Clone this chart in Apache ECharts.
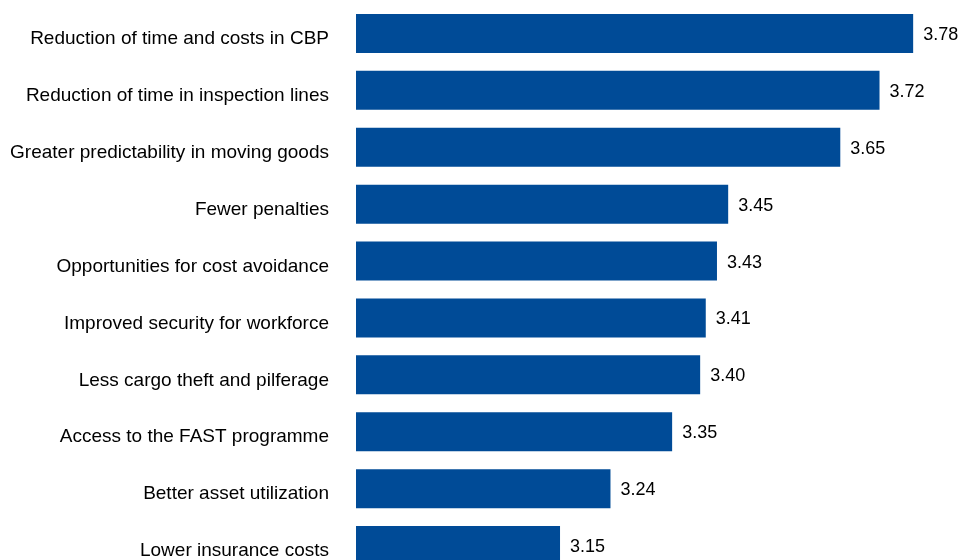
<!DOCTYPE html>
<html>
<head>
<meta charset="utf-8">
<script src="https://cdn.jsdelivr.net/npm/echarts@6/dist/echarts.min.js"></script>
<style>
  html, body { margin: 0; padding: 0; background: #fff; }
  #main { width: 958px; height: 560px; }
</style>
</head>
<body>
<div id="main"></div>
<script>
// categories, top to bottom
var categories = [
  'Reduction of time and costs in CBP',
  'Reduction of time in inspection lines',
  'Greater predictability in moving goods',
  'Fewer penalties',
  'Opportunities for cost avoidance',
  'Improved security for workforce',
  'Less cargo theft and pilferage',
  'Access to the FAST programme',
  'Better asset utilization',
  'Lower insurance costs'
];
var scores = [3.78, 3.72, 3.65, 3.45, 3.43, 3.41, 3.40, 3.35, 3.24, 3.15];

var chart = echarts.init(document.getElementById('main'));

var option = {
  animation: false,
  grid: { left: 356, right: 0, top: 5, bottom: -14, outerBoundsMode: 'none' },
  xAxis: {
    type: 'value',
    min: 2.786,
    max: 3.86,
    show: false
  },
  yAxis: {
    type: 'category',
    inverse: true,
    data: categories,
    axisLine: { show: false },
    axisTick: { show: false },
    splitLine: { show: false },
    axisLabel: {
      margin: 27,
      formatter: function (v) { return '{a|' + v + '}'; },
      rich: {
        a: {
          color: '#000',
          fontFamily: 'Liberation Sans, Arial, sans-serif',
          fontSize: 19,
          padding: [11, 0, 0, 0]
        }
      }
    }
  },
  series: [{
    type: 'bar',
    data: scores,
    barWidth: 39,
    itemStyle: { color: '#004B97' },
    label: {
      show: true,
      position: 'right',
      distance: 10,
      formatter: function (p) { return '{b|' + p.value.toFixed(2) + '}'; },
      rich: {
        b: {
          color: '#000',
          fontFamily: 'Liberation Sans, Arial, sans-serif',
          fontSize: 18,
          padding: [3, 0, 0, 0]
        }
      }
    }
  }]
};

chart.setOption(option);
</script>
</body>
</html>
